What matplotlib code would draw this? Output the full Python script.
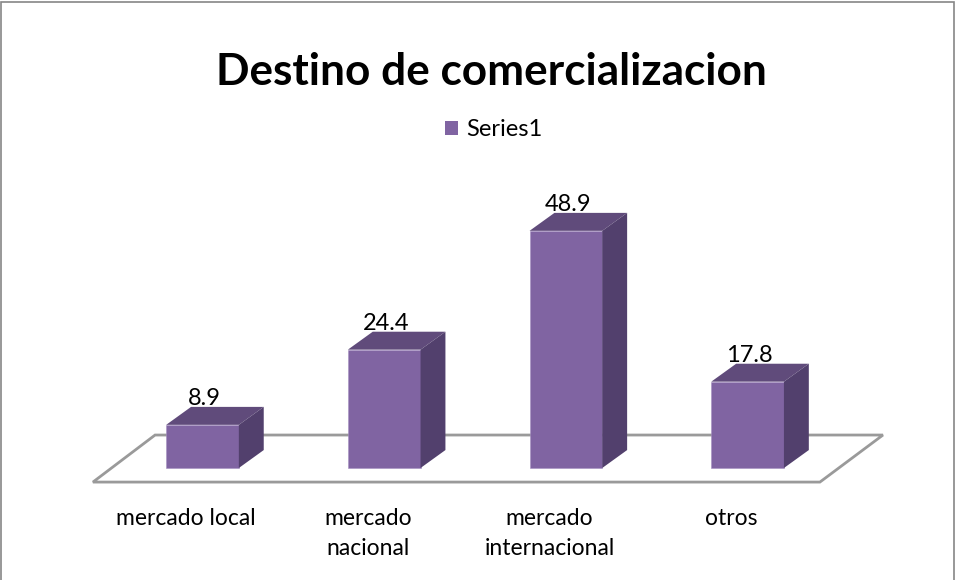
import matplotlib
matplotlib.use("Agg")
import matplotlib.pyplot as plt
from matplotlib.patches import Polygon, Rectangle, Patch

# data
categories = ["mercado local", "mercado\nnacional", "mercado\ninternacional", "otros"]
values = [8.9, 24.4, 48.9, 17.8]
series_name = "Series1"
title = "Destino de comercializacion"

FRONT = "#8064a2"
TOP = "#604b7b"
SIDE = "#52406d"
FLOOR = "#9a9a9a"

plt.rcParams["font.family"] = ["Lato", "DejaVu Sans"]

fig = plt.figure(figsize=(9.56, 5.8), dpi=100)
ax = fig.add_axes([0, 0, 1, 1])
ax.set_xlim(-1.1145, 4.147)
ax.set_ylim(-23.09, 96.49)
ax.axis("off")

# oblique depth offsets (x units, y units)
bw = 0.40
ddx, ddy = 0.137, 3.7

# floor plane
n = len(values)
floor = Polygon([(-0.603, -2.9), (n - 1 + 0.398, -2.9),
                 (n - 1 + 0.745, 6.8), (-0.261, 6.8)],
                closed=True, facecolor="white", edgecolor=FLOOR, lw=2, zorder=1)
ax.add_patch(floor)

xs = list(range(n))
ax.bar(xs, values, width=bw, color=FRONT, edgecolor="#a58fc0", lw=0.4, zorder=3)
for x, v in zip(xs, values):
    l, r = x - bw / 2, x + bw / 2
    ax.add_patch(Polygon([(l, v), (r, v), (r + ddx, v + ddy), (l + ddx, v + ddy)],
                         closed=True, facecolor=TOP, edgecolor="none", zorder=3))
    ax.add_patch(Polygon([(r, 0), (r + ddx, ddy), (r + ddx, v + ddy), (r, v)],
                         closed=True, facecolor=SIDE, edgecolor="none", zorder=3))
    ax.text(x + 0.01, v + 5.4, "%.1f" % v, ha="center", va="center",
            fontsize=17, color="black", zorder=4)

for x, c in zip(xs, categories):
    ax.text(x - 0.09, -8.2, c, ha="center", va="top", fontsize=16.5,
            linespacing=1.55, color="black")

fig.text(0.5136, 0.876, title, ha="center", va="center", fontsize=31.8,
         fontweight="bold")

fig.legend(handles=[Patch(facecolor=FRONT, label=series_name)],
           loc="center", bbox_to_anchor=(0.516, 0.776), frameon=False,
           fontsize=17, handlelength=0.55, handleheight=0.55, handletextpad=0.35)

# chart border
fig.add_artist(Rectangle((0.001, -0.05), 0.997, 1.047, transform=fig.transFigure,
                         facecolor="none", edgecolor="#868686", lw=1.2))

fig.savefig("out.png", dpi=100)
